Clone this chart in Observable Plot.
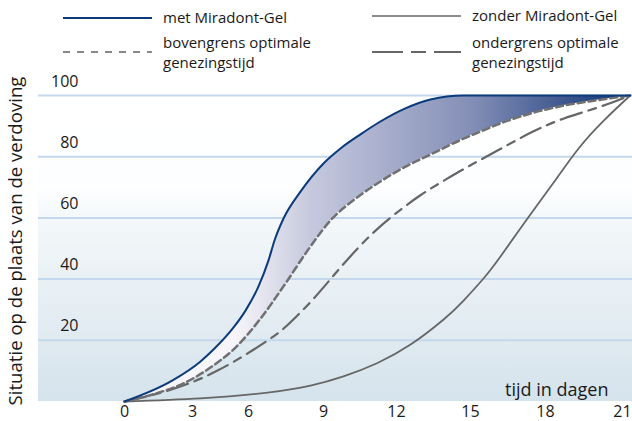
<!DOCTYPE html>
<html><head><meta charset="utf-8">
<script src="https://cdn.jsdelivr.net/npm/d3@7"></script>
<script src="https://cdn.jsdelivr.net/npm/@observablehq/plot@0.6"></script>
<style>
body{margin:0;background:#fff;font-family:"Open Sans",sans-serif}
#wrap{position:relative;width:632px;height:421px;overflow:hidden}
#legend{position:absolute;left:0;top:0}
</style></head><body>
<div id="wrap"><div id="chart"></div><svg id="legend" width="632" height="90"></svg></div>
<script>
// ---- data ----
const seriesNames = ["met Miradont-Gel", "zonder Miradont-Gel", "bovengrens optimale\ngenezingstijd", "ondergrens optimale\ngenezingstijd"];
const xTicks = [0, 3, 6, 9, 12, 15, 18, 21];
const yTicks = [20, 40, 60, 80, 100];
const yTitle = "Situatie op de plaats van de verdoving";
const xTitle = "tijd in dagen";
// [dag, waarde]
const met = [[0,0],[2.12,6.9],[3.43,13.1],[4.18,17.3],[5.2,24.2],[5.84,29.7],[6.4,37.6],[6.8,46.1],[7.04,52.6],[7.4,59.8],[8.08,68.6],[9.0,77.8],[9.7,82.7],[10.52,87.3],[11.34,91.5],[12.36,95.8],[13.38,98.7],[14.72,100],[17.5,100],[21.3,100]];
const boven = [[0,0],[1.37,2.6],[2.6,5.9],[3.96,11.1],[5.3,17.6],[6.48,27.1],[7.48,38.6],[8.36,49.3],[9.29,59.2],[10.32,66.3],[11.34,71.9],[12.45,77.1],[13.38,80.7],[14.72,85.9],[15.4,88.2],[16.08,90.5],[17.4,94.1],[18.72,96.7],[20.05,98.5],[21.3,100]];
const onder = [[0,0],[1.94,3.6],[4.34,10.1],[6.76,19.9],[7.68,25.9],[8.48,32.5],[9.29,40.0],[10.11,47.5],[11.05,55.2],[11.96,61.4],[12.97,67.4],[13.99,72.5],[15.0,77.2],[16.08,82.0],[17.4,87.8],[18.72,92.5],[20.05,96.1],[21.3,100]];
const zonder = [[0,0],[3.43,1.0],[6.76,2.9],[8.48,5.2],[9.82,8.2],[11.22,12.6],[12.57,18.6],[13.91,26.8],[14.72,33.0],[15.52,40.2],[16.2,47.4],[17.28,59.8],[18.32,71.6],[19.29,82.7],[20.27,91.8],[21.3,100]];
// tick positions on the original (irregular) axis
const xTickPx = [124, 192, 248, 323, 396, 470, 545, 622];

const areaData = met.map((m, i) => ({x1: m[0], y1: m[1], x2: boven[i][0], y2: boven[i][1]}));

const BLUE = "#0c3b7b", GRAY = "#666666", DGRAY = "#707070", TXT = "#1a1a1a";

function background(index, scales, values, dims) {
  const g = d3.create("svg:g");
  const defs = g.append("defs");
  const bgG = defs.append("linearGradient").attr("id", "bgGrad").attr("x1", 0).attr("y1", 0).attr("x2", 0).attr("y2", 1);
  [[0, "#ffffff"], [0.3, "#fdfeff"], [0.42, "#f3f7f9"], [1, "#d5e3ec"]].forEach(([o, c]) => bgG.append("stop").attr("offset", o).attr("stop-color", c));
  const fG = defs.append("linearGradient").attr("id", "fillGrad").attr("gradientUnits", "userSpaceOnUse")
    .attr("x1", 235).attr("y1", 0).attr("x2", 632).attr("y2", 0);
  [[0, "#f6f5f9"], [0.19, "#c6c9de"], [0.59, "#8590b8"], [0.88, "#2f4c86"], [1, "#063777"]].forEach(([o, c]) => fG.append("stop").attr("offset", o).attr("stop-color", c));
  g.append("rect").attr("x", dims.marginLeft).attr("y", dims.marginTop)
    .attr("width", dims.width - dims.marginLeft - dims.marginRight)
    .attr("height", dims.height - dims.marginTop - dims.marginBottom)
    .attr("fill", "url(#bgGrad)");
  return g.node();
}

const chart = Plot.plot({
  width: 632, height: 421,
  marginLeft: 38, marginRight: 0, marginTop: 95, marginBottom: 20,
  style: {fontFamily: "'Open Sans', sans-serif", color: TXT, background: "transparent"},
  x: {type: "linear", domain: xTicks, range: xTickPx},
  y: {domain: [0, 100]},
  marks: [
    background,
    Plot.ruleY(yTicks, {stroke: "#c4d7ec", strokeWidth: 2}),
    Plot.area(areaData, {x1: "x1", y1: "y1", x2: "x2", y2: "y2", fill: "url(#fillGrad)", curve: "monotone-x"}),
    Plot.line(zonder, {x: d => d[0], y: d => d[1], stroke: GRAY, strokeWidth: 1.8, curve: "natural"}),
    Plot.line(onder, {x: d => d[0], y: d => d[1], stroke: GRAY, strokeWidth: 2.2, strokeDasharray: "22,7,8,7", curve: "natural"}),
    Plot.line(boven, {x: d => d[0], y: d => d[1], stroke: DGRAY, strokeWidth: 2.5, strokeDasharray: "7,4", curve: "monotone-x"}),
    Plot.line(met, {x: d => d[0], y: d => d[1], stroke: BLUE, strokeWidth: 2, curve: "monotone-x"}),
    Plot.axisX({ticks: xTicks, tickSize: 0, tickPadding: 4, fontSize: 16, label: null}),
    Plot.axisY({ticks: yTicks, tickSize: 0, tickPadding: 0, dx: 40, dy: -14, textAnchor: "end", fontSize: 16, label: null}),
    Plot.text([xTitle], {frameAnchor: "bottom-right", textAnchor: "end", lineAnchor: "bottom", dx: -24, dy: -6, fontSize: 18, fill: TXT})
  ]
});
document.getElementById("chart").appendChild(chart);

const svg = d3.select(chart);
svg.append("text").text(yTitle)
  .attr("transform", "translate(22,241) rotate(-90)")
  .attr("text-anchor", "middle").attr("font-size", 18.6).attr("fill", TXT)
  .attr("font-family", "'Open Sans', sans-serif");

// ---- legend ----
const lg = d3.select("#legend").attr("font-family", "'Open Sans', sans-serif");
const items = [
  {name: seriesNames[0], x: 63, y: 18, stroke: BLUE, w: 2, dash: null},
  {name: seriesNames[1], x: 372, y: 16, stroke: GRAY, w: 1.5, dash: null},
  {name: seriesNames[2], x: 63, y: 52, stroke: "#888", w: 2, dash: "7,7"},
  {name: seriesNames[3], x: 372, y: 52, stroke: GRAY, w: 2, dash: "31,8,15,8"}
];
items.forEach(it => {
  lg.append("line").attr("x1", it.x).attr("x2", it.x + 89).attr("y1", it.y).attr("y2", it.y)
    .attr("stroke", it.stroke).attr("stroke-width", it.w).attr("stroke-dasharray", it.dash);
  const lines = it.name.split("\n");
  const t = lg.append("text").attr("font-size", 15).attr("fill", TXT);
  const y0 = lines.length === 1 ? it.y + 5 : it.y - 4;
  lines.forEach((s, i) => t.append("tspan").attr("x", it.x + 100).attr("y", y0 + i * 20).text(s));
});
</script>
</body></html>
